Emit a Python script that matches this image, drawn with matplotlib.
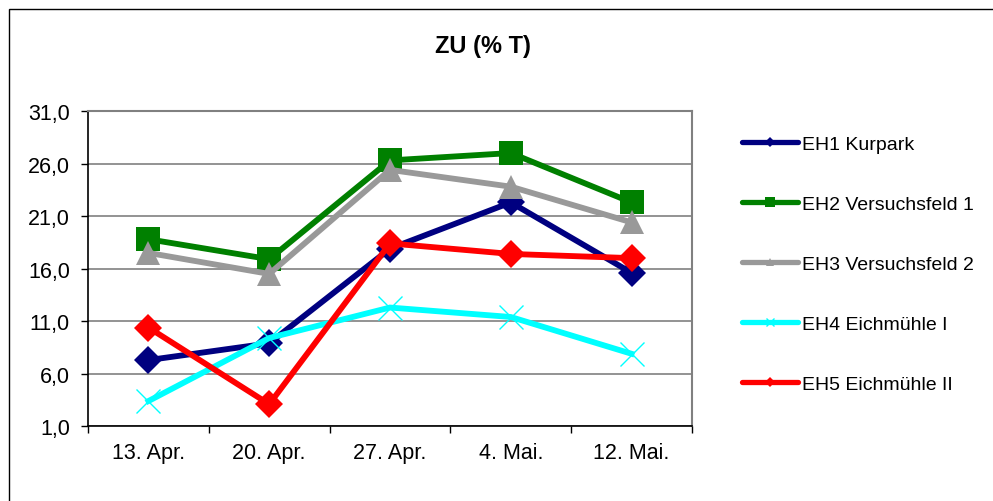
import matplotlib
matplotlib.use("Agg")
import matplotlib.pyplot as plt
from matplotlib.lines import Line2D
from matplotlib.patches import Rectangle

plt.rcParams["font.family"] = ["Liberation Sans", "DejaVu Sans"]

dates = ["13. Apr.", "20. Apr.", "27. Apr.", "4. Mai.", "12. Mai."]
names = ["EH1 Kurpark", "EH2 Versuchsfeld 1", "EH3 Versuchsfeld 2",
         "EH4 Eichmühle I", "EH5 Eichmühle II"]
eh1 = [7.3, 8.9, 17.9, 22.3, 15.6]
eh2 = [18.8, 16.9, 26.3, 27.0, 22.3]
eh3 = [17.5, 15.5, 25.4, 23.8, 20.4]
eh4 = [3.4, 9.4, 12.3, 11.4, 7.9]
eh5 = [10.4, 3.1, 18.4, 17.4, 17.0]
yticks = [1.0, 6.0, 11.0, 16.0, 21.0, 26.0, 31.0]

series = [eh1, eh2, eh3, eh4, eh5]
colors = ["#000080", "#008000", "#999999", "#00FFFF", "#FF0000"]
markers = ["D", "s", "^", "x", "D"]
msizes = [14, 17, 17, 17, 14]
legms = [5, 7, 6, 6, 5]

W, H = 993, 502
fig = plt.figure(figsize=(W / 100, H / 100), dpi=100)
fig.patches.append(Rectangle((8.5 / W, -0.1), 1.2, (H - 9.5) / H + 0.1, transform=fig.transFigure,
                             fill=False, ec="#000000", lw=1.0))
ax = fig.add_axes([88 / W, (H - 427.3) / H, 604 / W, 315.3 / H])

x = list(range(len(dates)))
for i, (vals, c, m, ms) in enumerate(zip(series, colors, markers, msizes)):
    mew = 1.0 if m == "x" else 0
    ax.plot(x, vals, color=c, lw=4.2, marker=m, ms=ms, mfc=c, mec=c, mew=mew,
            solid_joinstyle="miter", zorder=3 + i)

ax.set_xlim(-0.5, 4.5)
ax.set_ylim(1, 31)
ax.set_yticks(yticks)
ax.set_yticklabels([f"{v:.1f}".replace(".", ",") for v in yticks], fontsize=15.5)
ax.set_xticks([i - 0.5 for i in range(len(dates) + 1)])
ax.set_xticklabels([])
ax.set_xticks(x, minor=True)
ax.set_xticklabels(dates, minor=True, fontsize=15.5)
ax.tick_params(axis="x", which="major", length=5, width=1, direction="out")
ax.tick_params(axis="x", which="minor", length=0, pad=11)
ax.tick_params(axis="y", length=5, width=1, direction="out", pad=8)
ax.grid(axis="y", color="#808080", lw=1.2, zorder=1)
for s in ["top", "right"]:
    ax.spines[s].set_color("#808080")
    ax.spines[s].set_linewidth(1.5)
for s in ["left", "bottom"]:
    ax.spines[s].set_color("#000000")
    ax.spines[s].set_linewidth(1.2)

fig.text(483 / W, 1 - 47 / H, "ZU (% T)", ha="center", va="center", fontsize=17, fontweight="bold")

handles = [Line2D([], [], color=c, lw=3.8, marker=m, ms=lm, mfc=c, mec=c,
                  mew=1.0 if m == "x" else 0, solid_capstyle="round")
           for c, m, lm in zip(colors, markers, legms)]
leg = fig.legend(handles, names, loc="upper left", bbox_to_anchor=(742 / W, 1 - 136 / H),
                 frameon=False, fontsize=14, handlelength=2.9, handletextpad=0.2,
                 labelspacing=2.18, borderaxespad=0, borderpad=0)

fig.savefig("out.png", dpi=100, facecolor="white")
